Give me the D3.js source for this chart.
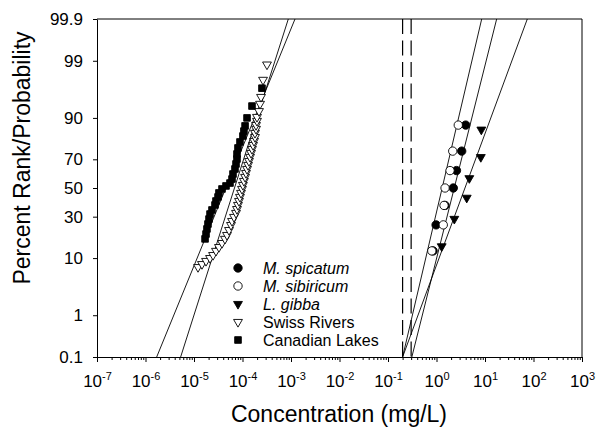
<!DOCTYPE html>
<html>
<head>
<meta charset="utf-8">
<script src="https://cdn.jsdelivr.net/npm/d3@7"></script>
<style>
  body { margin: 0; background: #fff; }
  svg { display: block; font-family: Arial, "Liberation Sans", sans-serif; }
</style>
</head>
<body>
<div id="chart"></div>
<script>
// Swiss Rivers (open down triangles)
const swissConc = [1.21e-5, 1.46e-5, 1.77e-5, 2.14e-5, 2.47e-5, 2.84e-5, 3.27e-5, 3.78e-5, 4.35e-5, 4.79e-5,
  5.27e-5, 5.79e-5, 6.08e-5, 6.68e-5, 7.35e-5, 7.7e-5, 8.07e-5, 8.47e-5, 8.87e-5, 9.31e-5,
  9.77e-5, 1.02e-4, 1.07e-4, 1.13e-4, 1.18e-4, 1.24e-4, 1.30e-4, 1.36e-4, 1.43e-4, 1.50e-4,
  1.57e-4, 1.65e-4, 1.73e-4, 1.81e-4, 1.81e-4, 1.90e-4, 1.90e-4, 1.99e-4, 1.99e-4, 2.19e-4,
  2.30e-4, 2.41e-4, 2.65e-4, 3.2e-4];
const swissPct = [7.4, 8.2, 9.1, 10.0, 11.0, 12.5, 14.0, 15.7, 17.6, 19.5,
  22.1, 24.9, 27.3, 29.8, 32.4, 35.0, 37.8, 40.6, 43.5, 46.4,
  49.3, 52.2, 55.1, 58.0, 60.8, 63.6, 66.3, 68.9, 71.5, 73.9,
  76.2, 78.4, 80.5, 82.4, 84.3, 86.0, 87.5, 89.0, 90.3, 92.0,
  93.8, 95.2, 97.6, 98.8];

// Canadian Lakes (filled squares)
const canadaConc = [1.69e-5, 1.77e-5, 1.85e-5, 1.94e-5, 2.04e-5, 2.14e-5, 2.35e-5, 2.71e-5, 2.84e-5, 3.13e-5,
  3.27e-5, 3.78e-5, 4.57e-5, 5.52e-5, 6.08e-5, 6.37e-5, 7.0e-5, 7.35e-5, 7.7e-5, 7.7e-5,
  8.07e-5, 8.87e-5, 1.02e-4, 1.07e-4, 1.13e-4, 1.24e-4, 1.57e-4, 2.52e-4];
const canadaPct = [17.6, 20.0, 22.7, 25.5, 28.5, 31.7, 34.4, 37.8, 40.6, 43.5,
  46.4, 49.3, 51.5, 53.6, 56.5, 60.1, 63.6, 67.0, 70.2, 73.3,
  76.8, 80.0, 82.9, 85.1, 87.2, 90.0, 93.3, 96.6];

// species toxicity
const spicatumConc = [0.85, 0.98, 1.5, 2.22, 2.58, 3.31, 4.0];
const spicatumPct = [12.5, 25, 37.5, 50, 62.5, 75, 87.5];
const sibiricumConc = [0.80, 1.38, 1.43, 1.50, 1.90, 2.16, 2.81];
const sibiricumPct = [12.5, 25, 37.5, 50, 62.5, 75, 87.5];
const gibbaConc = [1.28, 2.33, 4.2, 4.75, 8.2, 8.4];
const gibbaPct = [14.3, 28.6, 42.9, 57.1, 71.4, 85.7];

// fitted lines: concentration at 0.1 % and at 99.9 %
const fitNames = ["Canadian Lakes", "Swiss Rivers", "M. spicatum", "M. sibiricum", "L. gibba"];
const fitAtLow = [1.7e-6, 5.3e-6, 0.31, 0.2, 0.2];
const fitAtHigh = [1.21e-3, 8.8e-4, 17.4, 8.55, 74.5];

// dashed reference concentrations
const refConc = [0.2, 0.3];

const xTicks = [1e-7, 1e-6, 1e-5, 1e-4, 1e-3, 1e-2, 1e-1, 1e0, 1e1, 1e2, 1e3];
const xExponents = ["-7", "-6", "-5", "-4", "-3", "-2", "-1", "0", "1", "2", "3"];
const yTicks = [0.1, 1, 10, 30, 50, 70, 90, 99, 99.9];
const yTickLabels = ["0.1", "1", "10", "30", "50", "70", "90", "99", "99.9"];

const legendNames = ["M. spicatum", "M. sibiricum", "L. gibba", "Swiss Rivers", "Canadian Lakes"];

// inverse normal cdf (Acklam)
function qnorm(p) {
  const a = [-3.969683028665376e+01, 2.209460984245205e+02, -2.759285104469687e+02, 1.383577518672690e+02, -3.066479806614716e+01, 2.506628277459239e+00];
  const b = [-5.447609879822406e+01, 1.615858368580409e+02, -1.556989798598866e+02, 6.680131188771972e+01, -1.328068155288572e+01];
  const c = [-7.784894002430293e-03, -3.223964580411365e-01, -2.400758277161838e+00, -2.549732539343734e+00, 4.374664141464968e+00, 2.938163982698783e+00];
  const d = [7.784695709041462e-03, 3.224671290700398e-01, 2.445134137142996e+00, 3.754408661907416e+00];
  const pl = 0.02425;
  let q, r;
  if (p < pl) {
    q = Math.sqrt(-2 * Math.log(p));
    return (((((c[0]*q+c[1])*q+c[2])*q+c[3])*q+c[4])*q+c[5]) / ((((d[0]*q+d[1])*q+d[2])*q+d[3])*q+1);
  }
  if (p > 1 - pl) {
    q = Math.sqrt(-2 * Math.log(1 - p));
    return -(((((c[0]*q+c[1])*q+c[2])*q+c[3])*q+c[4])*q+c[5]) / ((((d[0]*q+d[1])*q+d[2])*q+d[3])*q+1);
  }
  q = p - 0.5; r = q * q;
  return (((((a[0]*r+a[1])*r+a[2])*r+a[3])*r+a[4])*r+a[5])*q / (((((b[0]*r+b[1])*r+b[2])*r+b[3])*r+b[4])*r+1);
}

const margin = { top: 19, right: 15, bottom: 73, left: 97 },
  width = 582 - margin.left,
  height = 357 - margin.top;

const svg = d3.select("#chart")
  .append("svg")
  .attr("width", 597)
  .attr("height", 430);

svg.append("rect").attr("width", 597).attr("height", 430).attr("fill", "#fff");

const g = svg.append("g").attr("transform", `translate(${margin.left}, ${margin.top})`);

const x = d3.scaleLog().domain([1e-7, 1e3]).range([0, width]);
const z = d3.scaleLinear().domain([qnorm(0.001), qnorm(0.999)]).range([height, 0]);
const y = p => z(qnorm(p / 100));

g.append("clipPath").attr("id", "plot")
  .append("rect").attr("width", width).attr("height", height);

// x axis: minor + major ticks
const minor = [];
xTicks.slice(0, -1).forEach(t => { for (let k = 2; k <= 9; k++) minor.push(t * k); });
g.append("g")
  .attr("transform", `translate(0, ${height})`)
  .call(d3.axisBottom(x).tickValues(minor).tickSize(3).tickFormat(""))
  .call(a => a.select(".domain").remove());
const xAxis = g.append("g")
  .attr("transform", `translate(0, ${height})`)
  .call(d3.axisBottom(x).tickValues(xTicks).tickSize(5).tickSizeOuter(0).tickFormat(""));
xAxis.selectAll(".tick").append("text")
  .attr("fill", "#000")
  .attr("y", 30)
  .attr("font-size", 17)
  .attr("text-anchor", "middle")
  .each(function (d, i) {
    const t = d3.select(this);
    t.append("tspan").text("10");
    t.append("tspan").attr("dy", -7).attr("font-size", 11).text(xExponents[i]);
  });

// y axis
g.append("g")
  .call(d3.axisLeft(z).tickValues(yTicks.map(p => qnorm(p / 100)))
    .tickFormat((d, i) => yTickLabels[i]).tickSize(4).tickSizeOuter(0).tickPadding(10))
  .call(a => a.selectAll("text").attr("font-size", 17).attr("fill", "#000"));

// top and right frame
g.append("path")
  .attr("d", `M0,0H${width}V${height}`)
  .attr("fill", "none").attr("stroke", "#000");

g.selectAll(".domain").attr("stroke", "#000");
g.selectAll(".tick line").attr("stroke", "#000");

const plot = g.append("g").attr("clip-path", "url(#plot)");

// dashed reference lines
plot.selectAll(".ref")
  .data(refConc)
  .join("line")
  .attr("x1", d => x(d)).attr("x2", d => x(d))
  .attr("y1", 0).attr("y2", height)
  .attr("stroke", "#000").attr("stroke-width", 1.2)
  .attr("stroke-dasharray", "15,6.5");

// fitted lines
const line = d3.line().x(d => x(d[0])).y(d => y(d[1]));
plot.selectAll(".fit")
  .data(fitNames.map((n, i) => [[fitAtLow[i], 0.1], [fitAtHigh[i], 99.9]]))
  .join("path")
  .attr("d", line)
  .attr("fill", "none")
  .attr("stroke", "#000")
  .attr("stroke-width", 0.9);

// markers
const circ = d3.symbol().type(d3.symbolCircle).size(55)();
const sq = d3.symbol().type(d3.symbolSquare).size(44)();
const tri = d3.symbol().type(d3.symbolTriangle).size(34)();

function drawPoints(conc, pct, shape, fill, rot) {
  g.append("g").selectAll("path")
    .data(conc.map((c, i) => [c, pct[i]]))
    .join("path")
    .attr("d", shape)
    .attr("transform", d => `translate(${x(d[0])}, ${y(d[1])}) rotate(${rot})`)
    .attr("fill", fill)
    .attr("stroke", "#000")
    .attr("stroke-width", 0.9);
}

drawPoints(swissConc, swissPct, tri, "#fff", 180);
drawPoints(canadaConc, canadaPct, sq, "#000", 0);
drawPoints(spicatumConc, spicatumPct, circ, "#000", 0);
drawPoints(sibiricumConc, sibiricumPct, circ, "#fff", 0);
drawPoints(gibbaConc, gibbaPct, tri, "#000", 180);

// legend
const legendShapes = [circ, circ, tri, tri, sq];
const legendFill = ["#000", "#fff", "#000", "#fff", "#000"];
const legend = svg.append("g").attr("transform", "translate(238, 268)");
legendNames.forEach((n, i) => {
  const row = legend.append("g").attr("transform", `translate(0, ${i * 18})`);
  row.append("path")
    .attr("d", legendShapes[i])
    .attr("transform", (i === 2 || i === 3) ? "rotate(180)" : null)
    .attr("fill", legendFill[i])
    .attr("stroke", "#000")
    .attr("stroke-width", 0.9);
  row.append("text")
    .attr("x", 25)
    .attr("y", 6)
    .attr("font-size", 16)
    .attr("font-style", i < 3 ? "italic" : "normal")
    .text(n);
});

// axis titles
svg.append("text")
  .attr("x", 339)
  .attr("y", 422)
  .attr("text-anchor", "middle")
  .attr("font-size", 23)
  .text("Concentration (mg/L)");

svg.append("text")
  .attr("transform", "translate(30, 158) rotate(-90)")
  .attr("text-anchor", "middle")
  .attr("font-size", 23)
  .text("Percent Rank/Probability");
</script>
</body>
</html>
